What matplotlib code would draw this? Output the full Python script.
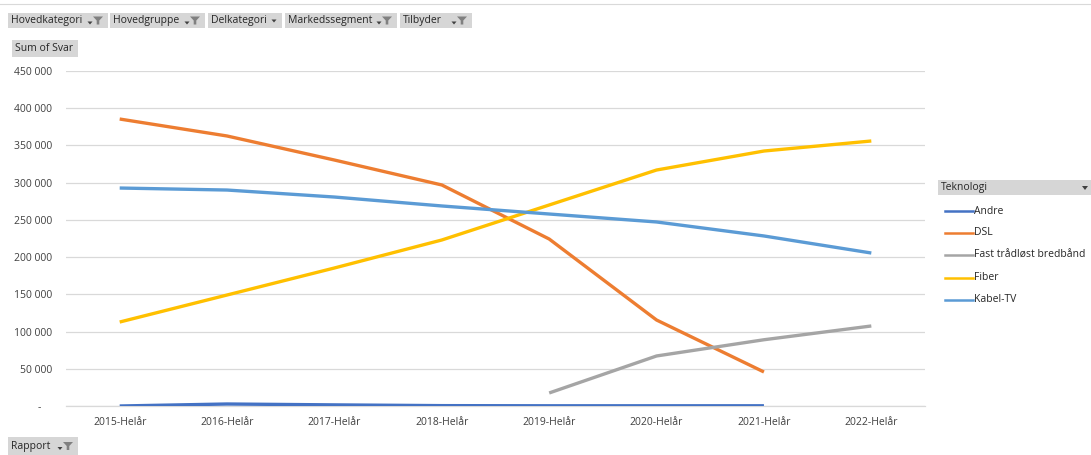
import matplotlib
matplotlib.use("Agg")
import matplotlib.pyplot as plt
from matplotlib.patches import Rectangle, Polygon
from matplotlib.lines import Line2D
from matplotlib.ticker import FuncFormatter

plt.rcParams['font.family'] = ['Open Sans', 'DejaVu Sans']

categories = ["2015-Helår", "2016-Helår", "2017-Helår", "2018-Helår",
              "2019-Helår", "2020-Helår", "2021-Helår", "2022-Helår"]
andre = [0, 2700, 1500, 500, 300, 300, 300, None]
dsl = [385500, 362700, 330400, 296900, 224300, 115500, 45700, None]
fast_tradlost = [None, None, None, None, 17500, 67200, 89000, 107500]
fiber = [112800, 149100, 185400, 223000, 270000, 317000, 342500, 356000]
kabel_tv = [292800, 290100, 280700, 268700, 257900, 247200, 228400, 205500]

series_names = ["Andre", "DSL", "Fast trådløst bredbånd", "Fiber", "Kabel-TV"]
series_values = [andre, dsl, fast_tradlost, fiber, kabel_tv]
series_colors = ["#4472C4", "#ED7D31", "#A5A5A5", "#FFC000", "#5B9BD5"]
y_ticks = [0, 50000, 100000, 150000, 200000, 250000, 300000, 350000, 400000, 450000]
filter_labels = ["Hovedkategori", "Hovedgruppe", "Delkategori", "Markedssegment", "Tilbyder"]

W, H = 1091, 455
fig = plt.figure(figsize=(W / 100, H / 100), dpi=100)

def fx(px):
    return px / W

def fy(py):
    return 1 - py / H

ax = fig.add_axes([fx(66), fy(406), fx(925) - fx(66), fy(71) - fy(406)])
x = list(range(len(categories)))
for name, vals, col in zip(series_names, series_values, series_colors):
    xs = [i for i, v in zip(x, vals) if v is not None]
    ys = [v for v in vals if v is not None]
    ax.plot(xs, ys, color=col, lw=2.4, solid_capstyle='butt', zorder=3)

ax.set_xlim(-0.5, len(categories) - 0.5)
ax.set_ylim(0, 450000)
ax.set_yticks(y_ticks)

def fmt(v, pos):
    if v == 0:
        return "-    "
    return f"{int(v):,}".replace(",", " ")

ax.yaxis.set_major_formatter(FuncFormatter(fmt))
ax.set_xticks(x)
ax.set_xticklabels(categories)
ax.grid(axis='y', color='#D9D9D9', lw=0.9, zorder=0)
for s in ['top', 'right', 'left']:
    ax.spines[s].set_visible(False)
ax.spines['bottom'].set_color('#D9D9D9')
ax.spines['bottom'].set_linewidth(0.9)
ax.tick_params(axis='both', length=0, labelsize=7.5, colors='#404040', pad=8)
ax.tick_params(axis='y', pad=10)

# top thin line
fig.add_artist(Line2D([fx(0), fx(1091)], [fy(4), fy(4)], color='#D9D9D9', lw=0.8))

def button(x0, x1, y0, y1, label, arrow=True, funnel=True, dd=False):
    fig.add_artist(Rectangle((fx(x0), fy(y1)), fx(x1 - x0), fy(y0) - fy(y1),
                             facecolor='#D6D6D6', edgecolor='none'))
    fig.text(fx(x0 + 3), fy((y0 + y1) / 2), label, fontsize=7.5, color='#262626',
             va='center', ha='left')
    if funnel:
        cx = x1 - 10
        cy = (y0 + y1) / 2
        pts = [(cx - 5, cy - 4), (cx + 5, cy - 4), (cx + 1.3, cy), (cx + 1.3, cy + 4),
               (cx - 1.3, cy + 4), (cx - 1.3, cy)]
        fig.add_artist(Polygon([(fx(a), fy(b)) for a, b in pts], closed=True,
                               facecolor='#808080', edgecolor='none'))
        if arrow:
            ax_ = x1 - 18
            pts2 = [(ax_ - 2.5, cy + 1), (ax_ + 2.5, cy + 1), (ax_, cy + 4)]
            fig.add_artist(Polygon([(fx(a), fy(b)) for a, b in pts2], closed=True,
                                   facecolor='#404040', edgecolor='none'))
    if dd:
        cx = x1 - 8
        cy = (y0 + y1) / 2
        pts2 = [(cx - 2.5, cy - 1), (cx + 2.5, cy - 1), (cx, cy + 2)]
        fig.add_artist(Polygon([(fx(a), fy(b)) for a, b in pts2], closed=True,
                               facecolor='#404040', edgecolor='none'))

btn_pos = [(8, 108), (110, 205), (208, 282), (285, 397), (400, 472)]
for (a, b), lab in zip(btn_pos, filter_labels):
    if lab == "Delkategori":
        button(a, b, 13, 28, lab, funnel=False, dd=True)
    else:
        button(a, b, 13, 28, lab)

button(12, 78, 40, 57, "Sum of Svar", funnel=False)
button(8, 78, 437, 455, "Rapport")

# legend
fig.add_artist(Rectangle((fx(938), fy(195)), fx(1091 - 938), fy(180) - fy(195),
                         facecolor='#D6D6D6', edgecolor='none'))
fig.text(fx(941), fy(187.5), "Teknologi", fontsize=7.5, color='#262626', va='center')
pts2 = [(1082, 186), (1088, 186), (1085, 190)]
fig.add_artist(Polygon([(fx(a), fy(b)) for a, b in pts2], closed=True,
                       facecolor='#404040', edgecolor='none'))
leg_y = [211, 233, 255, 278, 300]
for name, col, yy in zip(series_names, series_colors, leg_y):
    fig.add_artist(Line2D([fx(945), fx(973)], [fy(yy), fy(yy)], color=col, lw=1.8))
    fig.text(fx(974), fy(yy), name, fontsize=7.5, color='#262626', va='center')

fig.savefig("out.png", dpi=100, facecolor='white')
